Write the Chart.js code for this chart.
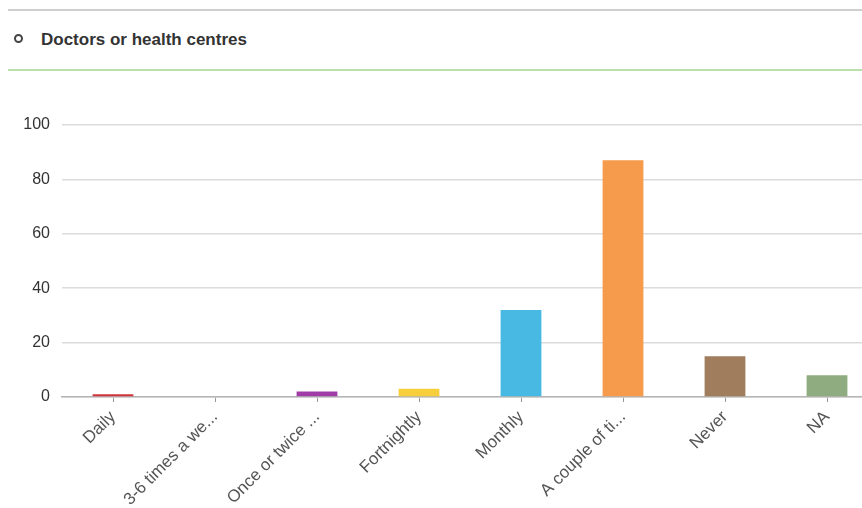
<!DOCTYPE html>
<html>
<head>
<meta charset="utf-8">
<script src="https://cdn.jsdelivr.net/npm/chart.js@4"></script>
<style>
  html, body { margin: 0; padding: 0; background: #fff; overflow: hidden; width: 862px; height: 508px; }
  body { position: relative; font-family: "Liberation Sans", Arial, sans-serif; }
  .topline { position: absolute; left: 8px; right: 0; top: 9px; height: 2px; background: #cfcfcf; }
  .title { position: absolute; left: 14px; top: 30px; font-size: 17px; font-weight: bold; color: #333; }
  .title .dot { display: inline-block; width: 5px; height: 5px; border: 2px solid #444; border-radius: 50%; margin-right: 18px; vertical-align: 2px; }
  .greenline { position: absolute; left: 8px; right: 0; top: 69px; height: 2px; background: #b9e0ab; }
  .wrap { position: absolute; left: 0; top: 80px; width: 900px; height: 428px; }
</style>
</head>
<body>
<div class="topline"></div>
<div class="title"><span class="dot"></span>Doctors or health centres</div>
<div class="greenline"></div>
<div class="wrap"><canvas id="chart"></canvas></div>
<script>
const categories = ["Daily", "3-6 times a week", "Once or twice a week", "Fortnightly", "Monthly", "A couple of times a year", "Never", "NA"];
const counts = [1, 0, 2, 3, 32, 87, 15, 8];
const barColors = ["#d0343a", "#9e9e9e", "#a03ca8", "#f7cf3c", "#47b9e2", "#f69b4b", "#a07d5d", "#8fac80"];
const yTicks = [0, 20, 40, 60, 80, 100];

// labels longer than 14 chars get cut like the original
function shortLabel(s) {
  return s.length > 14 ? s.slice(0, 14) + "..." : s;
}

const ctx = document.getElementById("chart").getContext("2d");
new Chart(ctx, {
  type: "bar",
  data: {
    labels: categories,
    datasets: [{
      label: "Doctors or health centres",
      data: counts,
      backgroundColor: barColors,
      barPercentage: 0.4,
      categoryPercentage: 1,
    }],
  },
  options: {
    responsive: true,
    maintainAspectRatio: false,
    animation: false,
    layout: { padding: { top: 45, right: 22, left: 0, bottom: 0 } },
    plugins: { legend: { display: false }, tooltip: { enabled: false } },
    scales: {
      x: {
        grid: { display: true, drawOnChartArea: false, drawTicks: true, tickLength: 5, color: "#999", offset: false },
        border: { display: true, color: "#b5b5b5", width: 1.5 },
        ticks: {
          color: "#555",
          font: { family: "Liberation Sans", size: 17 },
          maxRotation: 45,
          minRotation: 45,
          autoSkip: false,
          padding: 5,
          callback: function (v) { return shortLabel(categories[v]); },
        },
        afterFit: function (scale) { scale.height = 111; },
      },
      y: {
        min: 0,
        max: 100,
        afterBuildTicks: function (scale) { scale.ticks = yTicks.map(v => ({ value: v })); },
        grid: { color: "#dcdcdc", lineWidth: 1.5, drawTicks: false },
        border: { display: false },
        ticks: {
          color: "#333",
          font: { family: "Liberation Sans", size: 16 },
          padding: 12,
        },
        afterFit: function (scale) { scale.width = 62; },
      },
    },
  },
});
</script>
</body>
</html>
